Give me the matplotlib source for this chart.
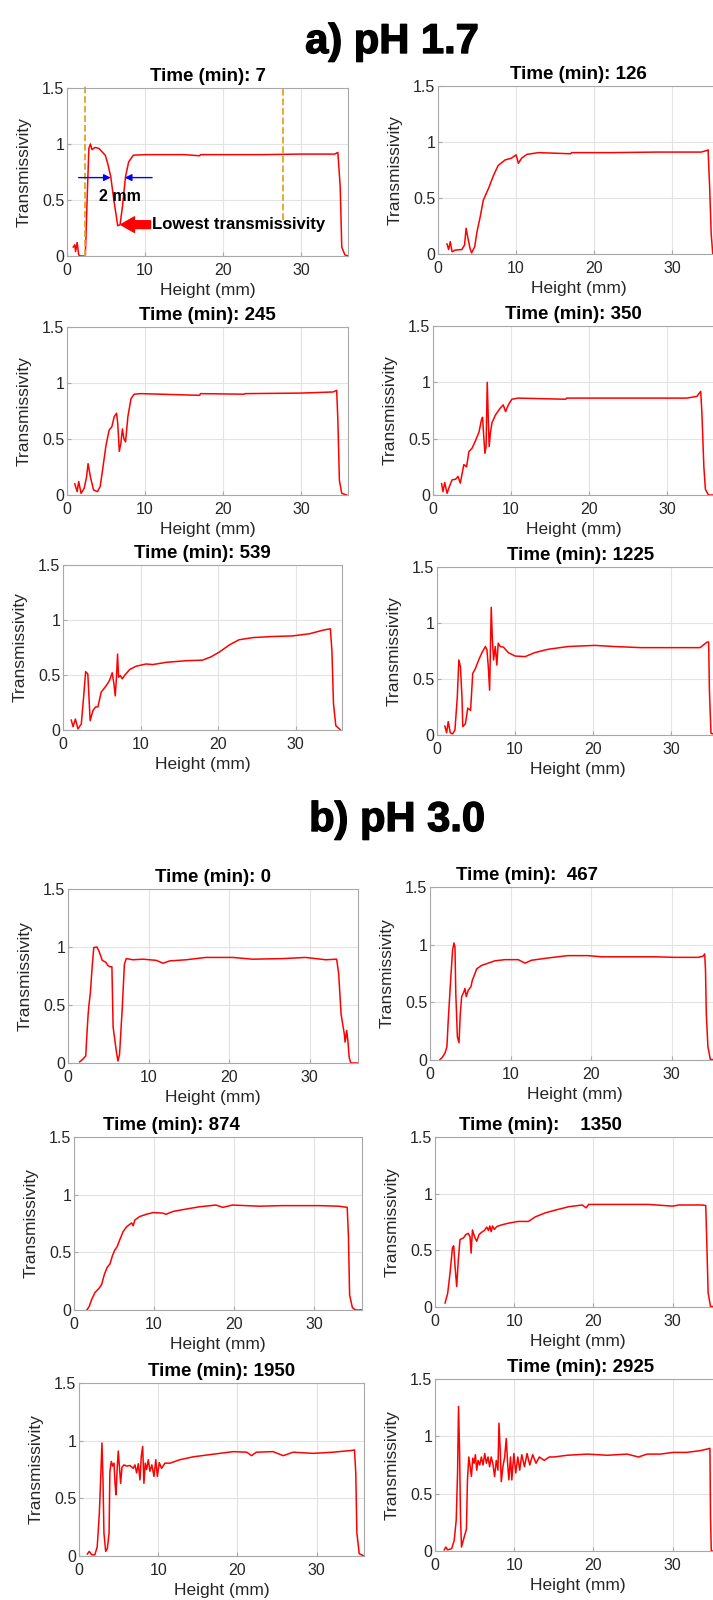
import matplotlib
matplotlib.use("Agg")
import matplotlib.pyplot as plt
import matplotlib.patheffects as pe

plt.rcParams['font.family'] = ['Liberation Sans', 'DejaVu Sans']

# ---- pH 1.7 ----
t7_x = [0.8, 1.0, 1.1, 1.3, 1.5, 1.7, 2.0, 2.35, 2.6, 2.8, 3.0, 3.2, 3.6, 4.1, 4.5, 4.9, 5.2, 5.6,
        6.0, 6.5, 6.8, 7.1, 7.5, 7.9, 8.5, 10, 15, 17, 17.1, 20, 25, 30, 34.3, 34.7, 35.0, 35.2, 35.6, 36.0]
t7_y = [0.08, 0.1, 0.04, 0.12, 0.01, 0.0, 0.0, 0.0, 0.55, 0.96, 1.0, 0.95, 0.97, 0.96, 0.93, 0.9, 0.83, 0.71,
        0.5, 0.27, 0.28, 0.44, 0.71, 0.84, 0.9, 0.905, 0.905, 0.895, 0.905, 0.905, 0.905, 0.91, 0.91, 0.925,
        0.62, 0.08, 0.01, 0.0]

t126_x = [1.15, 1.36, 1.57, 1.8, 2.2, 3.06, 3.4, 3.6, 3.8, 4.1, 4.3, 4.7, 5.0, 5.4, 5.8, 6.5, 7.1, 7.7,
          8.6, 9.4, 10.0, 10.3, 10.7, 11.4, 12.9, 17, 17.1, 22, 28, 33.7, 34.5, 34.6, 34.8, 35.0, 35.2, 36.0]
t126_y = [0.09, 0.04, 0.11, 0.02, 0.035, 0.04, 0.08, 0.23, 0.155, 0.05, 0.01, 0.065, 0.2, 0.33, 0.48, 0.59,
          0.7, 0.79, 0.84, 0.855, 0.885, 0.81, 0.855, 0.89, 0.905, 0.895, 0.905, 0.905, 0.91, 0.91, 0.925,
          0.93, 0.6, 0.18, 0.0, 0.0]

t245_x = [1.0, 1.3, 1.5, 1.8, 2.2, 2.5, 2.7, 3.0, 3.4, 3.9, 4.25, 4.55, 5.0, 5.4, 5.75, 6.05, 6.35, 6.5,
          6.7, 6.9, 7.1, 7.3, 7.5, 7.8, 8.2, 8.6, 9.45, 17, 17.1, 22.7, 22.8, 30, 34.1, 34.55, 34.7, 34.9,
          35.2, 35.8]
t245_y = [0.1, 0.03, 0.12, 0.015, 0.06, 0.16, 0.28, 0.16, 0.045, 0.03, 0.075, 0.22, 0.445, 0.58, 0.61, 0.7,
          0.73, 0.64, 0.39, 0.46, 0.59, 0.5, 0.475, 0.7, 0.86, 0.9, 0.905, 0.89, 0.905, 0.9, 0.905, 0.91,
          0.92, 0.935, 0.67, 0.13, 0.015, 0.0]

t350_x = [1.1, 1.27, 1.5, 1.8, 2.1, 2.45, 2.9, 3.2, 3.5, 3.7, 3.95, 4.3, 4.6, 5.0, 5.4, 5.9, 6.2, 6.35,
          6.5, 6.65, 6.8, 6.95, 7.1, 7.2, 7.35, 7.55, 8.0, 8.6, 9.0, 9.3, 9.65, 10.1, 10.9, 17, 17.1, 25,
          32.5, 33.8, 34.3, 34.45, 34.7, 34.9, 35.3, 36.0]
t350_y = [0.1, 0.03, 0.11, 0.015, 0.075, 0.135, 0.14, 0.165, 0.105, 0.18, 0.27, 0.25, 0.385, 0.415, 0.475,
          0.56, 0.665, 0.69, 0.52, 0.37, 0.43, 1.0, 0.64, 0.43, 0.55, 0.64, 0.71, 0.77, 0.8, 0.74, 0.8, 0.85,
          0.86, 0.85, 0.86, 0.86, 0.86, 0.875, 0.92, 0.725, 0.25, 0.05, 0.0, 0.0]

t539_x = [1.07, 1.3, 1.6, 1.93, 2.36, 2.66, 2.92, 3.2, 3.35, 3.5, 3.86, 4.2, 4.5, 4.93, 5.6, 6.0, 6.35,
          6.57, 6.74, 6.9, 7.04, 7.17, 7.4, 7.64, 7.94, 8.6, 9.44, 10.7, 11.6, 13.3, 15.9, 18.0, 19.1, 20.2,
          21.5, 22.7, 24.5, 27.0, 29.6, 31.8, 33.7, 34.5, 34.7, 34.9, 35.2, 35.8]
t539_y = [0.09, 0.03, 0.1, 0.01, 0.055, 0.3, 0.53, 0.51, 0.3, 0.085, 0.175, 0.21, 0.21, 0.345, 0.405,
          0.45, 0.52, 0.42, 0.31, 0.48, 0.69, 0.48, 0.495, 0.465, 0.495, 0.55, 0.58, 0.6, 0.595, 0.615, 0.63,
          0.635, 0.665, 0.71, 0.775, 0.82, 0.84, 0.85, 0.855, 0.875, 0.91, 0.92, 0.72, 0.24, 0.04, 0.0]

t1225_x = [1.0, 1.23, 1.44, 1.7, 2.0, 2.3, 2.6, 2.8, 3.0, 3.2, 3.3, 3.64, 3.94, 4.3, 4.58, 4.9, 5.34,
           5.76, 6.2, 6.4, 6.57, 6.74, 6.86, 6.95, 7.08, 7.25, 7.46, 7.67, 7.84, 8.1, 8.5, 9.15, 10.0, 11.3,
           12.5, 14.2, 16.8, 20.2, 22.7, 26.1, 30.3, 33.7, 34.6, 34.8, 34.9, 35.1, 36.0]
t1225_y = [0.08, 0.02, 0.12, 0.02, 0.01, 0.045, 0.34, 0.67, 0.61, 0.34, 0.075, 0.1, 0.24, 0.22, 0.55,
           0.59, 0.67, 0.735, 0.79, 0.76, 0.61, 0.4, 0.82, 1.14, 0.875, 0.67, 0.79, 0.625, 0.82, 0.79, 0.785,
           0.735, 0.705, 0.7, 0.735, 0.765, 0.79, 0.8, 0.79, 0.78, 0.78, 0.78, 0.83, 0.83, 0.4, 0.015, 0.0]

# ---- pH 3.0 ----
t0_x = [1.45, 1.8, 2.2, 2.35, 2.5, 2.6, 2.77, 3.0, 3.2, 3.6, 3.9, 4.25, 4.67, 4.96, 5.2, 5.45, 5.6, 6.0,
        6.2, 6.4, 6.74, 7.0, 7.23, 8.06, 9.3, 10.95, 11.8, 12.6, 14.7, 17.1, 20.45, 22.9, 26.65, 29.5,
        32.0, 33.35, 33.6, 33.9, 34.3, 34.4, 34.6, 34.75, 34.9, 35.1, 36.0]
t0_y = [0.01, 0.03, 0.06, 0.25, 0.42, 0.5, 0.6, 0.83, 0.995, 1.0, 0.955, 0.885, 0.87, 0.84, 0.83, 0.83,
        0.31, 0.1, 0.017, 0.075, 0.48, 0.85, 0.9, 0.89, 0.895, 0.885, 0.86, 0.88, 0.89, 0.91, 0.91, 0.895,
        0.9, 0.91, 0.89, 0.895, 0.77, 0.42, 0.25, 0.18, 0.28, 0.19, 0.05, 0.0, 0.0]

t467_x = [1.24, 1.5, 1.86, 2.1, 2.27, 2.56, 2.8, 2.98, 3.1, 3.2, 3.4, 3.6, 3.76, 3.93, 4.2, 4.34, 4.5,
          4.75, 5.08, 5.25, 5.5, 5.8, 6.4, 7.23, 8.06, 9.3, 10.95, 11.8, 12.6, 14.7, 17.1, 19.6, 21.3,
          23.8, 25.8, 27.9, 30.4, 32.0, 33.3, 33.9, 34.1, 34.2, 34.3, 34.5, 34.8, 36.0]
t467_y = [0.005, 0.02, 0.06, 0.115, 0.35, 0.69, 0.95, 1.015, 0.98, 0.58, 0.2, 0.15, 0.4, 0.55, 0.59, 0.62,
          0.55, 0.605, 0.635, 0.69, 0.735, 0.79, 0.82, 0.84, 0.86, 0.87, 0.87, 0.84, 0.865, 0.885, 0.905,
          0.905, 0.895, 0.895, 0.895, 0.895, 0.89, 0.89, 0.89, 0.9, 0.92, 0.78, 0.4, 0.115, 0.005, 0.0]

t874_x = [1.6, 1.9, 2.2, 2.6, 3.15, 3.45, 3.8, 4.15, 4.5, 4.8, 5.1, 5.4, 5.73, 6.14, 6.55, 7.2, 7.4, 7.6,
          8.2, 9.05, 9.9, 11.1, 11.5, 12.4, 14.0, 15.7, 17.75, 18.6, 19.8, 23.15, 26.05, 28.1, 30.6, 33.1,
          34.15, 34.3, 34.45, 34.8, 35.2, 36.0]
t874_y = [0.0, 0.03, 0.09, 0.15, 0.19, 0.22, 0.31, 0.37, 0.4, 0.47, 0.52, 0.55, 0.61, 0.68, 0.72, 0.755,
          0.73, 0.78, 0.81, 0.83, 0.845, 0.84, 0.83, 0.855, 0.875, 0.895, 0.91, 0.89, 0.91, 0.9, 0.905,
          0.905, 0.905, 0.9, 0.89, 0.65, 0.13, 0.02, 0.0, 0.0]

t1350_x = [1.27, 1.6, 1.9, 2.2, 2.36, 2.53, 2.74, 2.95, 3.16, 3.6, 3.9, 4.2, 4.43, 4.56, 4.73, 5.0, 5.27,
           5.57, 5.9, 6.24, 6.54, 6.75, 6.92, 7.1, 7.26, 7.5, 7.8, 8.44, 9.3, 10.5, 11.8, 12.66, 13.9, 15.2,
           16.9, 18.6, 19.1, 19.4, 21.9, 24.5, 27.0, 30.0, 30.8, 33.75, 34.2, 34.3, 34.5, 34.8, 36.0]
t1350_y = [0.035, 0.12, 0.3, 0.52, 0.54, 0.36, 0.18, 0.42, 0.595, 0.61, 0.64, 0.65, 0.62, 0.475, 0.68,
           0.62, 0.58, 0.64, 0.66, 0.675, 0.705, 0.675, 0.715, 0.665, 0.715, 0.685, 0.71, 0.725, 0.74, 0.755,
           0.755, 0.795, 0.83, 0.855, 0.885, 0.9, 0.875, 0.905, 0.905, 0.905, 0.905, 0.89, 0.9, 0.9, 0.895,
           0.65, 0.125, 0.005, 0.0]

t1950_x = [1.05, 1.3, 1.6, 2.0, 2.3, 2.57, 2.73, 2.9, 3.03, 3.15, 3.37, 3.58, 3.8, 3.9, 4.08, 4.25, 4.42,
           4.55, 4.67, 4.84, 4.96, 5.1, 5.26, 5.43, 5.68, 6.0, 6.44, 6.86, 7.07, 7.28, 7.49, 7.7, 7.87, 8.04,
           8.2, 8.37, 8.54, 8.75, 8.96, 9.2, 9.47, 9.7, 9.9, 10.14, 10.43, 10.85, 11.5, 12.75, 14.43, 16.1,
           17.8, 19.5, 21.2, 21.8, 22.4, 24.5, 25.8, 27.05, 29.6, 32.1, 34.4, 34.8, 34.96, 35.1, 35.4, 36.0]
t1950_y = [0.017, 0.04, 0.01, 0.01, 0.08, 0.37, 0.66, 0.98, 0.66, 0.2, 0.04, 0.065, 0.2, 0.73, 0.82, 0.78,
           0.805, 0.63, 0.53, 0.78, 0.91, 0.78, 0.63, 0.77, 0.79, 0.78, 0.785, 0.76, 0.79, 0.72, 0.8, 0.66,
           0.865, 0.95, 0.63, 0.805, 0.75, 0.835, 0.735, 0.79, 0.69, 0.835, 0.69, 0.81, 0.76, 0.805, 0.805,
           0.835, 0.86, 0.875, 0.89, 0.905, 0.9, 0.87, 0.9, 0.905, 0.87, 0.9, 0.89, 0.9, 0.915, 0.92, 0.72,
           0.2, 0.02, 0.0]

t2925_x = [1.17, 1.38, 1.6, 2.1, 2.43, 2.68, 2.85, 2.97, 3.1, 3.22, 3.35, 3.68, 3.97, 4.1, 4.27, 4.44,
           4.6, 4.77, 4.94, 5.1, 5.27, 5.44, 5.65, 5.86, 6.07, 6.28, 6.49, 6.7, 6.9, 7.1, 7.3, 7.53, 7.74,
           7.95, 8.08, 8.24, 8.37, 8.58, 8.8, 9.0, 9.2, 9.33, 9.54, 9.7, 9.96, 10.2, 10.46, 10.7, 10.96, 11.3,
           11.63, 11.97, 12.34, 12.76, 13.18, 13.8, 14.43, 15.06, 16.7, 19.25, 21.76, 24.27, 25.7, 26.8,
           28.45, 30.1, 31.8, 33.5, 34.73, 34.8, 34.9, 36.0]
t2925_y = [0.01, 0.035, 0.01, 0.02, 0.095, 0.27, 0.68, 1.26, 0.88, 0.3, 0.035, 0.12, 0.19, 0.62, 0.82,
           0.735, 0.65, 0.81, 0.765, 0.84, 0.705, 0.79, 0.75, 0.82, 0.75, 0.85, 0.765, 0.82, 0.735, 0.82,
           0.765, 0.65, 0.79, 0.705, 1.115, 0.88, 0.605, 0.735, 0.82, 0.98, 0.735, 0.62, 0.82, 0.62, 0.85,
           0.68, 0.82, 0.705, 0.84, 0.735, 0.85, 0.75, 0.84, 0.765, 0.82, 0.79, 0.82, 0.82, 0.835, 0.845,
           0.835, 0.845, 0.82, 0.845, 0.845, 0.86, 0.86, 0.875, 0.895, 0.3, 0.0, 0.0]

times = ['7', '126', '245', '350', '539', '1225',
         '0', ' 467', '874', '   1350', '1950', '2925']
curves = [(t7_x, t7_y), (t126_x, t126_y), (t245_x, t245_y), (t350_x, t350_y),
          (t539_x, t539_y), (t1225_x, t1225_y), (t0_x, t0_y), (t467_x, t467_y),
          (t874_x, t874_y), (t1350_x, t1350_y), (t1950_x, t1950_y), (t2925_x, t2925_y)]

# axes boxes in pixels: left, right, top, bottom
boxes = [(67, 348, 88, 256), (438, 719, 86, 254),
         (67, 348, 327, 495), (433, 714, 326, 495),
         (63, 342, 565, 730), (437, 718, 567, 735),
         (68, 358, 889, 1063), (430, 720, 887, 1060),
         (74, 362, 1137, 1310), (435, 720, 1137, 1307),
         (79, 364, 1383, 1556), (435, 720, 1379, 1551)]
title_xf = [0.5, 0.5, 0.5, 0.5, 0.5, 0.51, 0.5, 0.335, 0.34, 0.37, 0.5, 0.51]

# annotation layout for the first panel
guide_x = [2.35, 27.7]
guide_ybot = [0.0, 0.32]
W, H = 713, 1600

fig = plt.figure(figsize=(W / 100, H / 100), dpi=100)

for i, ((x, y), (l, r, t, b)) in enumerate(zip(curves, boxes)):
    w, h = r - l, b - t
    ax = fig.add_axes([l / W, 1 - b / H, w / W, h / H])
    ax.plot(x, y, color='red', lw=1.1)
    ax.set_xlim(0, 36)
    ax.set_ylim(0, 1.5)
    ax.set_xticks([0, 10, 20, 30])
    ax.set_yticks([0, 0.5, 1, 1.5])
    ax.set_yticklabels(['0', '0.5', '1', '1.5'])
    ax.grid(True, color='#e3e3e3', lw=0.8)
    ax.set_axisbelow(True)
    for s in ax.spines.values():
        s.set_color('#a8a8a8')
        s.set_linewidth(0.8)
    ax.tick_params(direction='in', length=3, color='#a8a8a8', labelsize=11.5,
                   labelcolor='#262626')
    ax.tick_params(axis='y', pad=2)
    ax.tick_params(axis='x', pad=5)
    ax.set_xlabel('Height (mm)', fontsize=12.5, color='#262626')
    ax.set_ylabel('Transmissivity', fontsize=12.5, color='#262626')
    ax.xaxis.set_label_coords(0.5, -27 / h)
    ax.yaxis.set_label_coords(-35 / w, 0.5)
    ax.annotate('Time (min): ' + times[i], xy=(title_xf[i], 1), xycoords='axes fraction',
                xytext=(0, 8.5), textcoords='offset points', ha='center', va='center',
                fontsize=13.5, weight='bold')
    if i == 0:
        for gx, gy in zip(guide_x, guide_ybot):
            ax.plot([gx, gx], [gy, 1.52], ls='--', color='#e0a526', lw=1.3, clip_on=False)
        ax.annotate('', xy=(5.6, 0.7), xytext=(1.5, 0.7),
                    arrowprops=dict(arrowstyle='-|>', color='blue', lw=1, mutation_scale=10,
                                    shrinkA=0, shrinkB=0))
        ax.annotate('', xy=(7.4, 0.7), xytext=(10.9, 0.7),
                    arrowprops=dict(arrowstyle='-|>', color='blue', lw=1, mutation_scale=10,
                                    shrinkA=0, shrinkB=0))
        ax.text(6.8, 0.53, '2 mm', ha='center', va='center', fontsize=11.5, weight='bold')
        ax.annotate('', xy=(6.9, 0.28), xytext=(10.7, 0.28),
                    arrowprops=dict(arrowstyle='simple,head_length=0.7,head_width=0.8,tail_width=0.4',
                                    color='red', mutation_scale=14, shrinkA=0, shrinkB=0))
        ax.text(10.9, 0.28, 'Lowest transmissivity', ha='left', va='center', fontsize=12,
                weight='bold')

heavy = [pe.withStroke(linewidth=1.0, foreground='black')]
fig.text(392 / W, 1 - 42 / H, 'a) pH 1.7', ha='center', va='center', fontsize=30,
         weight='bold', path_effects=heavy)
fig.text(397 / W, 1 - 820 / H, 'b) pH 3.0', ha='center', va='center', fontsize=30,
         weight='bold', path_effects=heavy)

fig.savefig('out.png', dpi=100)
